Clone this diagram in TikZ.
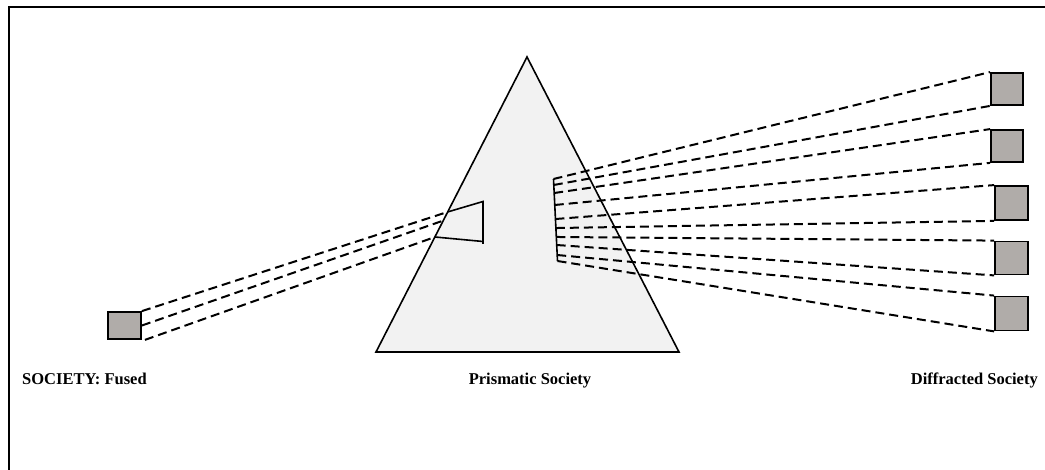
\documentclass[tikz,border=0pt]{standalone}
\usepackage{fontspec}
\setmainfont{Liberation Serif}
\usetikzlibrary{calc}
\definecolor{prism}{RGB}{242,242,242}
\definecolor{boxgray}{RGB}{176,172,169}
\tikzset{
  frameline/.style={line width=2pt},
  solidline/.style={line width=1.6pt},
  ray/.style={line width=2pt, dash pattern=on 9pt off 5pt},
  socbox/.style={draw, line width=1.8pt, fill=boxgray, inner sep=0pt},
  lbl/.style={font=\fontsize{16.5}{20}\selectfont\bfseries, inner sep=0pt}
}
\begin{document}
\begin{tikzpicture}[x=1pt,y=-1pt]
\useasboundingbox (0,0) rectangle (1045,470);
% frame
\draw[frameline] (8.5,470) -- (8.5,7) -- (1045,7);
% prism
\draw[solidline, fill=prism, line join=miter] (527,57) -- (679,352) -- (376,352) -- cycle;
% source square
\node[socbox, minimum width=33pt, minimum height=27pt] (fused) at (124.5,325.5) {};
% diffracted squares
\node[socbox, minimum width=32pt, minimum height=32pt] (s1) at (1007,89) {};
\node[socbox, minimum width=32pt, minimum height=32pt] (s2) at (1007,146) {};
\node[socbox, minimum width=33pt, minimum height=34pt] (s3) at (1011.5,203) {};
\node[socbox, minimum width=33pt, minimum height=33pt] (s4) at (1011.5,258) {};
\node[socbox, minimum width=33pt, minimum height=34pt] (s5) at (1011.5,313.5) {};
% entry trapezoid
\coordinate (t1) at (447.5,212);
\coordinate (t2) at (483,201.5);
\coordinate (t3) at (483,244);
\coordinate (t4) at (435,237);
\coordinate (t5) at (483,241.5);
\coordinate (tm) at (445,220);
\draw[solidline] (t1) -- (t2) -- (t3);
\draw[solidline] (t4) -- (t5);
% incoming rays
\draw[ray] (fused.north east) -- (t1);
\draw[ray] (fused.east) -- (tm);
\draw[ray] ([xshift=3pt]fused.south east) -- (t4);
% exit bar
\coordinate (b1) at (553.5,179);
\coordinate (b2) at (557.5,261);
\draw[solidline] (b1) -- (b2);
% outgoing rays
\draw[ray] (b1) -- (s1.north west);
\draw[ray] ($(b1)!0.073!(b2)$) -- (s1.south west);
\draw[ray] ($(b1)!0.171!(b2)$) -- (s2.north west);
\draw[ray] ($(b1)!0.317!(b2)$) -- (s2.south west);
\draw[ray] ($(b1)!0.488!(b2)$) -- (s3.north west);
\draw[ray] ($(b1)!0.598!(b2)$) -- (s3.south west);
\draw[ray] ($(b1)!0.707!(b2)$) -- (s4.north west);
\draw[ray] ($(b1)!0.805!(b2)$) -- (s4.south west);
\draw[ray] ($(b1)!0.927!(b2)$) -- (s5.north west);
\draw[ray] (b2) -- (s5.south west);
% labels
\node[lbl, anchor=base west] (lfused) at (22,385) {SOCIETY: Fused};
\node[lbl, anchor=base] (lprism) at (530,385) {Prismatic Society};
\node[lbl, anchor=base east] (ldiff) at (1038,385) {Diffracted Society};
\end{tikzpicture}
\end{document}
